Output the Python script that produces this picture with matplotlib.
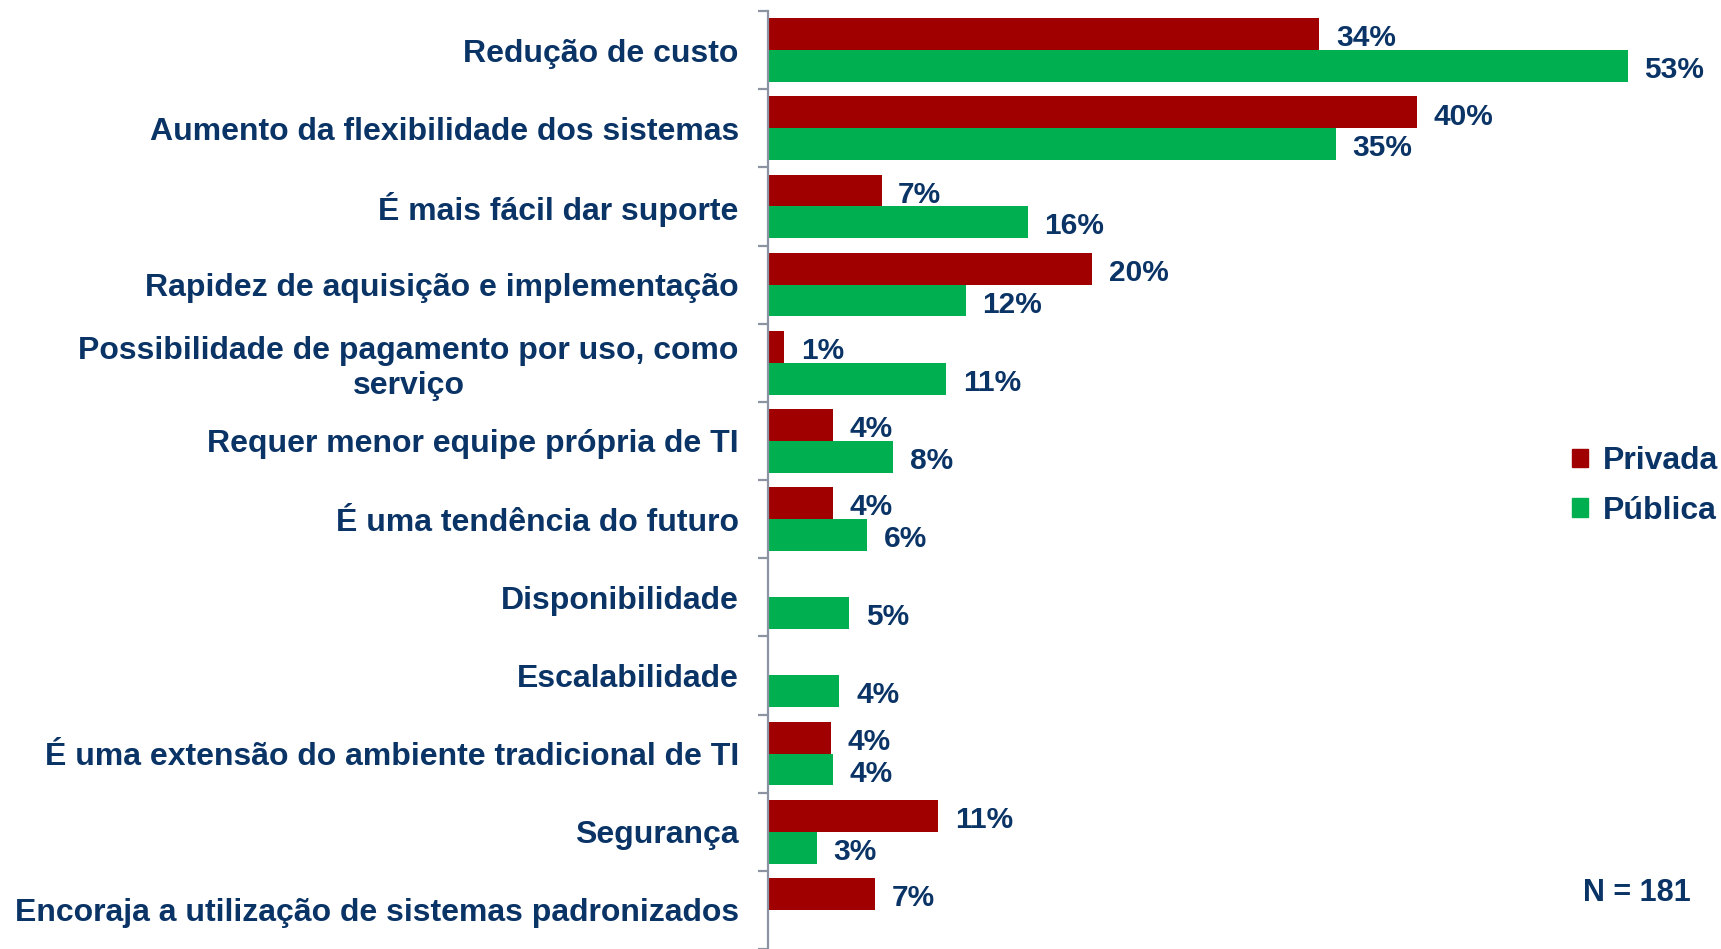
import matplotlib
matplotlib.use("Agg")
import matplotlib.pyplot as plt
from matplotlib.patches import Patch
import numpy as np

plt.rcParams['font.family'] = ['Liberation Sans', 'DejaVu Sans']
plt.rcParams['font.weight'] = 'bold'

navy = '#0A3366'
red = '#A00000'
green = '#00B050'
grey = '#8C93A3'

categories = [
    "Redução de custo",
    "Aumento da flexibilidade dos sistemas",
    "É mais fácil dar suporte",
    "Rapidez de aquisição e implementação",
    "Possibilidade de pagamento por uso, como\nserviço",
    "Requer menor equipe própria de TI",
    "É uma tendência do futuro",
    "Disponibilidade",
    "Escalabilidade",
    "É uma extensão do ambiente tradicional de TI",
    "Segurança",
    "Encoraja a utilização de sistemas padronizados",
]
# bar lengths, printed labels as shown
privada = [34, 40, 7, 20, 1, 4, 4, 0, 0, 3.9, 10.5, 6.6]
publica = [53, 35, 16, 12.2, 11, 7.7, 6.1, 5, 4.4, 4, 3, 0]
privada_lbl = ["34%", "40%", "7%", "20%", "1%", "4%", "4%", "", "", "4%", "11%", "7%"]
publica_lbl = ["53%", "35%", "16%", "12%", "11%", "8%", "6%", "5%", "4%", "4%", "3%", ""]

W, H = 1721, 949
fig = plt.figure(figsize=(W / 100, H / 100), dpi=100)
ax = fig.add_axes([768 / W, 0, 1 - 768 / W, 1 - 11 / H])

y = np.arange(len(categories))
h = 0.407
ax.barh(y - h / 2, privada, height=h, color=red, label="Privada")
ax.barh(y + h / 2, publica, height=h, color=green, label="Pública")

for yi, v, s in zip(y, privada, privada_lbl):
    if s:
        ax.annotate(s, (v, yi - h / 2), xytext=(12, -3), textcoords='offset points',
                    va='center', ha='left', fontsize=21.5, color=navy, fontweight='bold')
for yi, v, s in zip(y, publica, publica_lbl):
    if s:
        ax.annotate(s, (v, yi + h / 2), xytext=(12, -3), textcoords='offset points',
                    va='center', ha='left', fontsize=21.5, color=navy, fontweight='bold')

ax.set_xlim(0, (W - 768) / 16.22)
ax.set_ylim(-0.5 + (H - 11) / 78.6, -0.5)

for side in ['top', 'right', 'bottom']:
    ax.spines[side].set_visible(False)
ax.spines['left'].set_color(grey)
ax.spines['left'].set_linewidth(1.6)
ax.set_xticks([])

ax.set_yticks(y)
ax.set_yticklabels(categories, fontsize=23, color=navy, fontweight='bold',
                   multialignment='center')
ax.tick_params(axis='y', which='major', length=0, pad=21)
ax.set_yticks(np.arange(-0.5, len(categories) + 0.5, 1), minor=True)
ax.tick_params(axis='y', which='minor', length=7, width=1.6, color=grey)

handles = [Patch(color=red), Patch(color=green)]
fig.legend(handles, ["Privada", "Pública"], loc='center right',
           bbox_to_anchor=(1718 / W, 1 - 486 / H), frameon=False,
           labelcolor=navy, handlelength=0.5, handleheight=0.5,
           handletextpad=0.45, labelspacing=0.62, borderpad=0, borderaxespad=0,
           prop={'weight': 'bold', 'size': 23})

fig.text(1691 / W, 1 - 893 / H, "N = 181", ha='right', va='center',
         fontsize=22, color=navy, fontweight='bold')

fig.savefig("out.png", dpi=100)
